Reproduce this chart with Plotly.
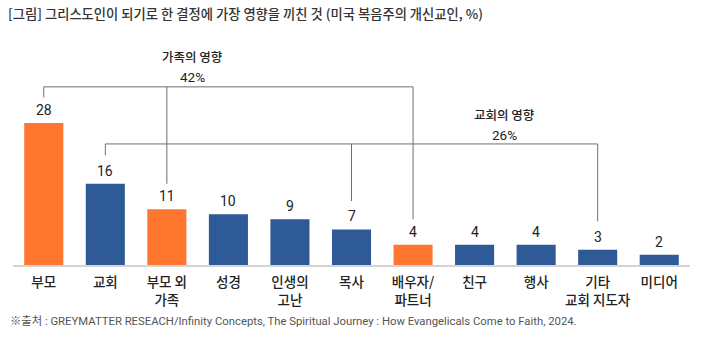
import plotly.graph_objects as go

# Survey data: most influential factor in becoming a Christian (US evangelicals, %)
categories = ["부모", "교회", "부모 외<br>가족", "성경", "인생의<br>고난", "목사",
              "배우자/<br>파트너", "친구", "행사", "기타<br>교회 지도자", "미디어"]
values = [28, 16, 11, 10, 9, 7, 4, 4, 4, 3, 2]
family_idx = [0, 2, 6]          # family-related factors (orange)
church_idx = [1, 5, 9]          # church-related factors
family_total = 42
church_total = 26

title_text = "[그림] 그리스도인이 되기로 한 결정에 가장 영향을 끼친 것 (미국 복음주의 개신교인, %)"
source_text = ("※출처 : GREYMATTER RESEACH/Infinity Concepts, The Spiritual Journey : "
               "How Evangelicals Come to Faith, 2024.")

ORANGE = "#ff762e"
BLUE = "#2e5a97"
LINE = "#707070"
KR = "Noto Sans CJK KR"
NUM = "Roboto, " + KR

x = list(range(len(categories)))
colors = [ORANGE if i in family_idx else BLUE for i in x]

fig = go.Figure(go.Bar(x=x, y=values, marker=dict(color=colors, line=dict(width=0)),
                       width=0.635, hoverinfo="skip"))

# value labels above the bars
for i, v in zip(x, values):
    fig.add_annotation(x=i, y=v, text=str(v), showarrow=False, yanchor="middle",
                       yshift=13, font=dict(family=NUM, size=14, color="#222"))

# grouping brackets
def bracket(idx, level, gap, label, total, lx, ly):
    fig.add_shape(type="line", x0=min(idx), x1=max(idx), y0=level, y1=level,
                  xref="x", yref="y", line=dict(color=LINE, width=1))
    for i in idx:
        fig.add_shape(type="line", x0=i, x1=i, y0=level, y1=values[i] + gap,
                      xref="x", yref="y", line=dict(color=LINE, width=1))
    fig.add_annotation(x=lx, y=ly, text=label, showarrow=False, yanchor="middle",
                       font=dict(family=KR, size=12.5, color="#222", weight=500))
    fig.add_annotation(x=lx, y=ly - 3.9, text=f"{total}%", showarrow=False,
                       yanchor="middle", font=dict(family=NUM, size=13.5, color="#222"))

bracket(family_idx, 35.1, 5.0, "가족의 영향", family_total, 2.41, 41.0)
bracket(church_idx, 23.85, 5.6, "교회의 영향", church_total, 7.48, 29.6)

fig.add_annotation(xref="paper", yref="paper", x=-0.007, y=-0.241, xanchor="left",
                   yanchor="middle", text=source_text, showarrow=False,
                   font=dict(family="Roboto, " + KR, size=11.3, color="#555"))

fig.update_layout(
    width=701, height=340,
    margin=dict(l=12.7, r=10.7, t=30, b=75),
    paper_bgcolor="white", plot_bgcolor="white",
    showlegend=False,
    title=dict(text=title_text, x=8 / 701, xanchor="left", xref="container",
               y=1 - 14 / 340, yanchor="middle", yref="container",
               font=dict(family=KR, size=13.3, color="#333", weight=500)),
    xaxis=dict(range=[-0.5, 10.5], tickvals=x, ticktext=categories,
               showgrid=False, zeroline=False, showline=True, linecolor="#d4d4d4",
               linewidth=2, ticks="outside", ticklen=4, tickcolor="rgba(0,0,0,0)",
               tickfont=dict(family=KR, size=13.5, color="#222", weight=500),
               fixedrange=True),
    yaxis=dict(range=[0, 46.3], visible=False, fixedrange=True),
)

fig.write_html("out.html")
